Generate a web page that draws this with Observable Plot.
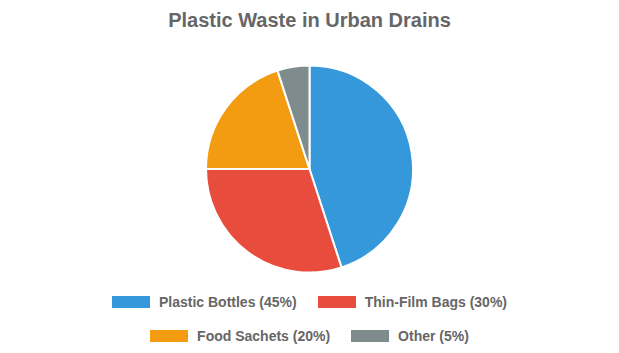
<!DOCTYPE html>
<html>
<head>
<meta charset="utf-8">
<script src="https://cdn.jsdelivr.net/npm/d3@7"></script>
<script src="https://cdn.jsdelivr.net/npm/@observablehq/plot@0.6"></script>
<style>
  html, body { margin: 0; padding: 0; background: #fff; }
  body { width: 619px; height: 353px; overflow: hidden; font-family: "Liberation Sans", Arial, sans-serif; }
  #title { height: 40px; line-height: 40px; text-align: center; font-weight: bold; font-size: 20px; color: #666; }
  #chart svg { display: block; }
  .row { display: flex; justify-content: center; align-items: center; height: 22px; }
  .row + .row { margin-top: 12px; }
  .item { display: flex; align-items: center; margin: 0 10.5px; font-size: 14px; font-weight: bold; color: #666; }
  .sw { width: 38px; height: 12px; margin-right: 9px; box-sizing: border-box; }
</style>
</head>
<body>
<div id="title">Plastic Waste in Urban Drains</div>
<div id="chart"></div>
<div id="legend"></div>
<script>
const categories = ["Plastic Bottles", "Thin-Film Bags", "Food Sachets", "Other"];
const values = [45, 30, 20, 5];
const colors = ["#3498db", "#e74c3c", "#f39c12", "#7f8c8d"];
const legendLabels = ["Plastic Bottles (45%)", "Thin-Film Bags (30%)", "Food Sachets (20%)", "Other (5%)"];
const legendRows = [[0, 1], [2, 3]];

const data = categories.map((c, i) => ({ category: c, value: values[i] }));

function pieMark(index, scales, vals, dimensions, context) {
  const cx = scales.x(0), cy = scales.y(0);
  const r = Math.abs(scales.x(1) - scales.x(0));
  const arcs = d3.pie().sort(null).value(d => d.value)(data);
  const arc = d3.arc().innerRadius(0).outerRadius(r);
  const g = d3.create("svg:g").attr("transform", `translate(${cx},${cy})`);
  g.selectAll("path").data(arcs).join("path")
    .attr("d", arc)
    .attr("fill", d => scales.color(d.data.category))
    .attr("stroke", "#fff")
    .attr("stroke-width", 2)
    .attr("stroke-linejoin", "round");
  return g.node();
}

const plot = Plot.plot({
  width: 619,
  height: 251,
  marginTop: 26,
  marginBottom: 19,
  marginLeft: 206,
  marginRight: 206,
  x: { domain: [-1, 1], axis: null },
  y: { domain: [-1, 1], axis: null },
  color: { domain: categories, range: colors },
  marks: [
    Plot.dot(data, { x: () => 0, y: () => 0, fill: "category", r: 0 }),
    pieMark
  ]
});
document.getElementById("chart").appendChild(plot);

const colorScale = plot.scale("color");
const legend = document.getElementById("legend");
for (const row of legendRows) {
  const rowEl = document.createElement("div");
  rowEl.className = "row";
  for (const i of row) {
    const item = document.createElement("div");
    item.className = "item";
    const sw = document.createElement("div");
    sw.className = "sw";
    sw.style.background = colorScale.apply(categories[i]);
    const t = document.createElement("span");
    t.textContent = legendLabels[i];
    item.appendChild(sw);
    item.appendChild(t);
    rowEl.appendChild(item);
  }
  legend.appendChild(rowEl);
}
</script>
</body>
</html>
